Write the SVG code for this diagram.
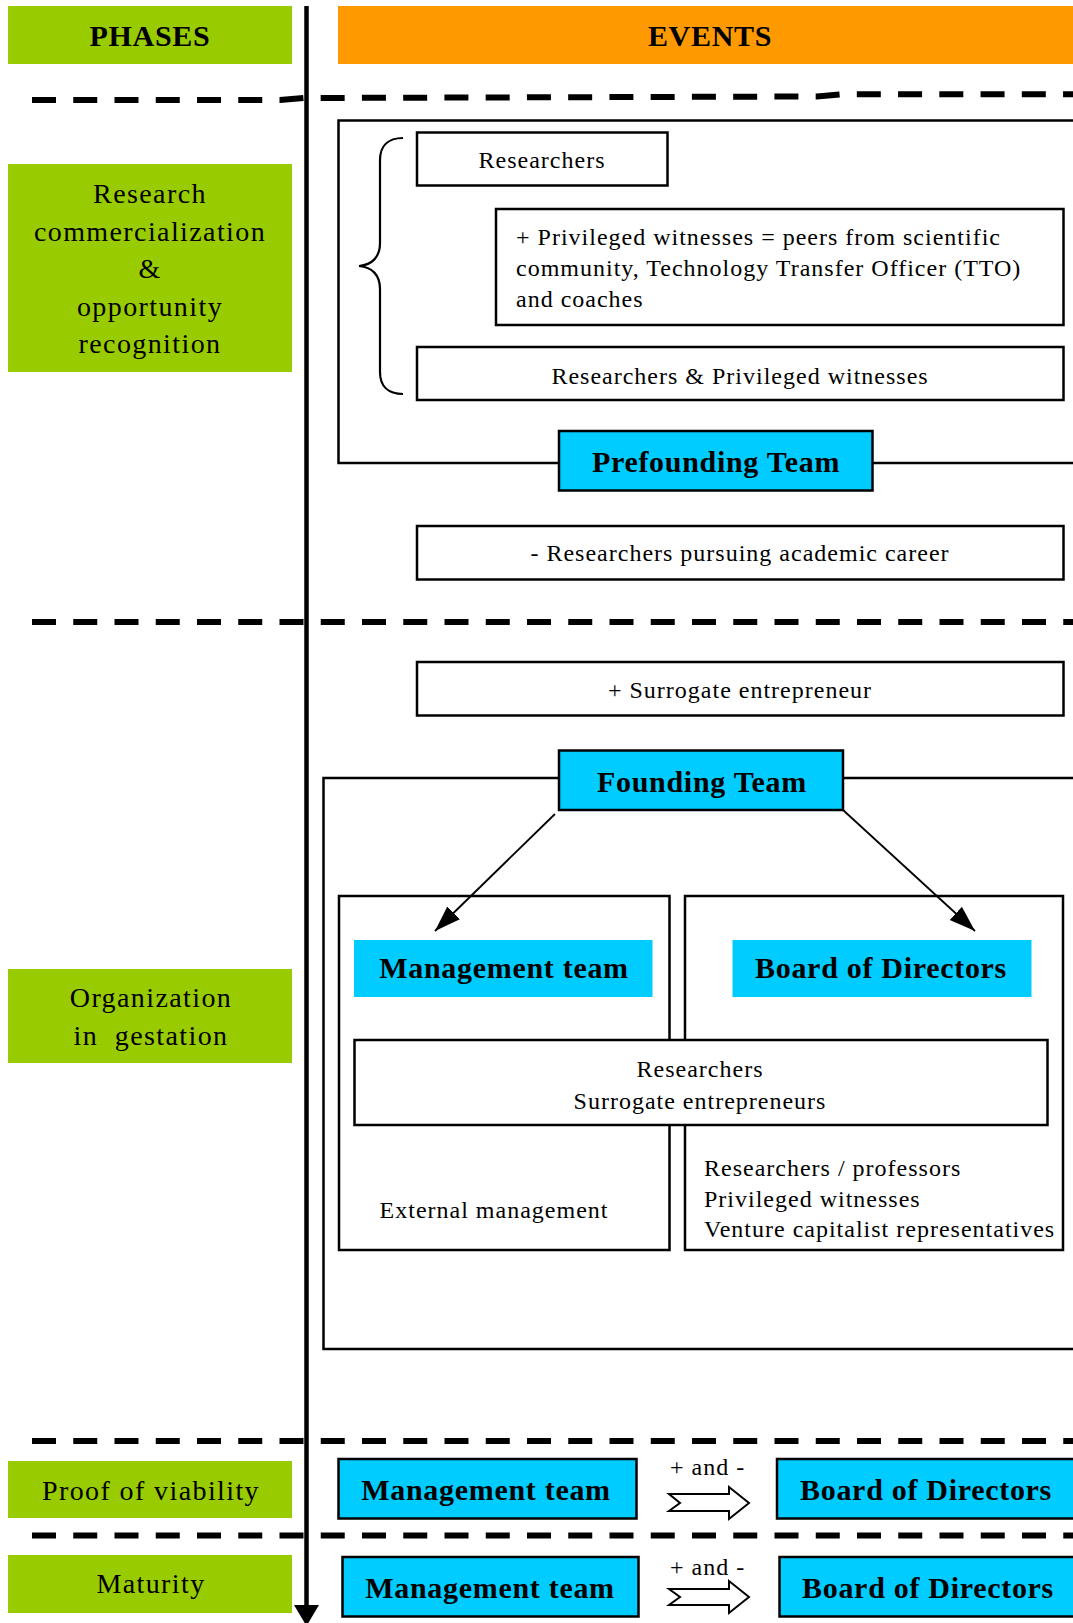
<svg xmlns="http://www.w3.org/2000/svg" width="1073" height="1623" viewBox="0 0 1073 1623">
<defs>
<style>
.t{font-family:"Liberation Serif","Times New Roman",serif;font-size:24px;letter-spacing:1px;fill:#000}
.b{font-family:"Liberation Serif","Times New Roman",serif;font-size:30px;font-weight:bold;letter-spacing:0.7px;fill:#000}
.p{font-family:"Liberation Serif","Times New Roman",serif;font-size:28px;letter-spacing:1.4px;fill:#000;white-space:pre}
.m{text-anchor:middle}
.box{fill:#fff;stroke:#000;stroke-width:2.5}
.frame{fill:none;stroke:#000;stroke-width:2.5}
.green{fill:#99CC00}
.cyan{fill:#00CCFF}
.cyanb{fill:#00CCFF;stroke:#000;stroke-width:2.5}
.dash{fill:none;stroke:#000;stroke-width:6;stroke-dasharray:24 17.25}
.hollow{fill:#fff;stroke:#000;stroke-width:2}
</style>
<marker id="ah" markerUnits="userSpaceOnUse" markerWidth="28" markerHeight="20" refX="26" refY="9" orient="auto">
<path d="M0,0 L26,9 L0,18 Z" fill="#000"/>
</marker>
</defs>
<rect width="1073" height="1623" fill="#fff"/>

<!-- headers -->
<g id="phases-header">
<rect class="green" x="8" y="6" width="284" height="58"/>
<text class="b m" x="150" y="46">PHASES</text>
</g>
<g id="events-header">
<rect x="338" y="6" width="736" height="58" fill="#FF9900"/>
<text class="b m" x="710" y="46">EVENTS</text>
</g>

<!-- phase separators -->
<g id="separators">
<path class="dash" d="M32,100 L280,100 L304,98 L817,96.5 L841,94.3 L1073,94.3"/>
<path class="dash" d="M32,622 L1073,622"/>
<path class="dash" d="M32,1441 L1073,1441"/>
<path class="dash" d="M32,1535.5 L1073,1535.5"/>
</g>

<!-- time axis -->
<g id="time-axis">
<line x1="306.5" y1="6" x2="306.5" y2="1608" stroke="#000" stroke-width="4.5"/>
<polygon points="294,1605 319,1605 306.5,1626" fill="#000"/>
</g>

<!-- phase labels -->
<g id="phase-research">
<rect class="green" x="8" y="164" width="284" height="208"/>
<text class="p m" x="150" y="203">Research</text>
<text class="p m" x="150" y="241">commercialization</text>
<text class="p m" x="150" y="278">&amp;</text>
<text class="p m" x="150" y="316">opportunity</text>
<text class="p m" x="150" y="353">recognition</text>
</g>
<g id="phase-organization">
<rect class="green" x="8" y="969" width="284" height="94"/>
<text class="p m" x="151" y="1007">Organization</text>
<text class="p m" x="151" y="1045">in  gestation</text>
</g>
<g id="phase-proof">
<rect class="green" x="8" y="1461" width="284" height="57"/>
<text class="p m" x="151" y="1500">Proof of viability</text>
</g>
<g id="phase-maturity">
<rect class="green" x="8" y="1555" width="284" height="58"/>
<text class="p m" x="151" y="1593">Maturity</text>
</g>

<!-- prefounding section -->
<g id="prefounding-frame">
<rect class="frame" x="338.5" y="120.5" width="740" height="342.5"/>
</g>
<g id="brace">
<path d="M403,138 C388,138 380,146 380,160 L380,243 C380,257 372,265 359,266 C372,267 380,275 380,289 L380,372 C380,386 388,394 403,394" fill="none" stroke="#000" stroke-width="2.2"/>
</g>
<g id="researchers">
<rect class="box" x="417" y="132.5" width="250.5" height="53"/>
<text class="t m" x="542" y="168">Researchers</text>
</g>
<g id="privileged-witnesses">
<rect class="box" x="496" y="209" width="567.5" height="116"/>
<text class="t" x="516" y="245">+ Privileged witnesses = peers from scientific</text>
<text class="t" x="516" y="276">community, Technology Transfer Officer (TTO)</text>
<text class="t" x="516" y="307">and coaches</text>
</g>
<g id="researchers-privileged">
<rect class="box" x="417" y="347" width="646.5" height="53"/>
<text class="t m" x="740" y="384">Researchers &amp; Privileged witnesses</text>
</g>
<g id="prefounding-team">
<rect class="cyanb" x="559" y="431" width="313.5" height="59.5"/>
<text class="b m" x="716" y="472">Prefounding Team</text>
</g>
<g id="researchers-academic">
<rect class="box" x="417" y="526" width="646.5" height="53.5"/>
<text class="t m" x="740" y="561">- Researchers pursuing academic career</text>
</g>

<!-- founding section -->
<g id="surrogate">
<rect class="box" x="417" y="662" width="646.5" height="53.5"/>
<text class="t m" x="740" y="698">+ Surrogate entrepreneur</text>
</g>
<g id="founding-frame">
<rect class="frame" x="323.5" y="778" width="755" height="571"/>
</g>
<g id="mgmt-frame">
<rect class="frame" x="339" y="896" width="330.5" height="354"/>
</g>
<g id="board-frame">
<rect class="frame" x="685" y="896" width="378" height="354"/>
</g>
<g id="founding-team">
<rect class="cyanb" x="559" y="750.5" width="284" height="59.5"/>
<text class="b m" x="702" y="792">Founding Team</text>
</g>
<g id="management-team">
<rect class="cyan" x="354" y="940" width="298.5" height="57"/>
<text class="b m" x="504" y="978">Management team</text>
</g>
<g id="board-of-directors">
<rect class="cyan" x="732.5" y="940" width="299" height="57"/>
<text class="b m" x="881" y="978">Board of Directors</text>
</g>
<g id="researchers-surrogates">
<rect class="box" x="354.5" y="1040" width="693" height="85"/>
<text class="t m" x="700" y="1077">Researchers</text>
<text class="t m" x="700" y="1109">Surrogate entrepreneurs</text>
</g>
<g id="external-management">
<text class="t m" x="494" y="1218">External management</text>
</g>
<g id="board-members">
<text class="t" x="704" y="1175.5">Researchers / professors</text>
<text class="t" x="704" y="1206.5">Privileged witnesses</text>
<text class="t" x="704" y="1237">Venture capitalist representatives</text>
</g>

<!-- proof of viability row -->
<g id="mgmt-proof">
<rect class="cyanb" x="338.5" y="1459" width="298" height="59.5"/>
<text class="b m" x="486" y="1500">Management team</text>
</g>
<g id="board-proof">
<rect class="cyanb" x="777" y="1459" width="300" height="59.5"/>
<text class="b m" x="926" y="1500">Board of Directors</text>
</g>
<!-- maturity row -->
<g id="mgmt-maturity">
<rect class="cyanb" x="342.5" y="1557" width="296" height="59.5"/>
<text class="b m" x="490" y="1598">Management team</text>
</g>
<g id="board-maturity">
<rect class="cyanb" x="779.5" y="1557" width="300" height="59.5"/>
<text class="b m" x="928" y="1598">Board of Directors</text>
</g>

<!-- connectors -->
<g id="connectors">
<line x1="555" y1="814" x2="435" y2="931" stroke="#000" stroke-width="1.8" marker-end="url(#ah)"/>
<line x1="843" y1="810" x2="975" y2="931" stroke="#000" stroke-width="1.8" marker-end="url(#ah)"/>
<path class="hollow" d="M669,1494 L729,1494 L729,1487 L749,1503 L729,1519 L729,1511 L669,1511 L680,1503 Z"/>
<text class="t" x="670" y="1475">+ and -</text>
<path class="hollow" d="M669,1589 L729,1589 L729,1581 L749,1597 L729,1613 L729,1605 L669,1605 L680,1597 Z"/>
<text class="t" x="670" y="1575">+ and -</text>
</g>
</svg>
